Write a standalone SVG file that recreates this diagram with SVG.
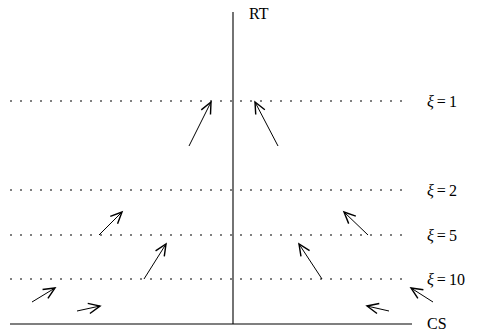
<svg xmlns="http://www.w3.org/2000/svg" width="478" height="331" viewBox="0 0 478 331">
<defs>
<style>
.ax{stroke:#000;stroke-width:1.1;fill:none}
.dot{stroke:#000;stroke-width:1;stroke-dasharray:2 8;fill:none}
.arr{stroke:#000;stroke-width:1;fill:none;marker-end:url(#ah)}
text{font-family:'Liberation Serif','DejaVu Serif',serif;font-size:16px;fill:#000}
.xi{font-style:italic}
</style>
<marker id="ah" markerUnits="userSpaceOnUse" markerWidth="20" markerHeight="20" viewBox="-12 -6 14 12" refX="0" refY="0" orient="auto">
<path d="M-8,-3.6 L0,0 L-8,3.6" fill="none" stroke="#000" stroke-width="1"/>
</marker>
</defs>
<g id="axes">
<line class="ax" x1="233" y1="12" x2="233" y2="324"/>
<line class="ax" x1="10" y1="324" x2="412" y2="324"/>
</g>
<g id="levels">
<line class="dot" x1="10" y1="101" x2="405" y2="101"/>
<line class="dot" x1="10" y1="190" x2="405" y2="190"/>
<line class="dot" x1="10" y1="235" x2="405" y2="235"/>
<line class="dot" x1="10" y1="279" x2="405" y2="279"/>
</g>
<g id="connectors">
<line class="arr" x1="189" y1="146" x2="211" y2="102"/>
<line class="arr" x1="278" y1="146" x2="255" y2="102"/>
<line class="arr" x1="99" y1="235" x2="122" y2="212"/>
<line class="arr" x1="144" y1="279" x2="166" y2="244"/>
<line class="arr" x1="368" y1="235" x2="344" y2="212"/>
<line class="arr" x1="322" y1="279" x2="299" y2="244"/>
<line class="arr" x1="32" y1="302" x2="55" y2="288"/>
<line class="arr" x1="77" y1="311" x2="100" y2="306"/>
<line class="arr" x1="389" y1="311" x2="367" y2="306"/>
<line class="arr" x1="433" y1="302" x2="411" y2="288"/>
</g>
<g id="label-RT"><text x="249" y="19">RT</text></g>
<g id="label-CS"><text x="427" y="329">CS</text></g>
<g id="label-xi1"><text x="427" y="107"><tspan class="xi">ξ</tspan><tspan dx="3">=</tspan><tspan dx="3">1</tspan></text></g>
<g id="label-xi2"><text x="427" y="196"><tspan class="xi">ξ</tspan><tspan dx="3">=</tspan><tspan dx="3">2</tspan></text></g>
<g id="label-xi5"><text x="427" y="241"><tspan class="xi">ξ</tspan><tspan dx="3">=</tspan><tspan dx="3">5</tspan></text></g>
<g id="label-xi10"><text x="427" y="285"><tspan class="xi">ξ</tspan><tspan dx="3">=</tspan><tspan dx="3">10</tspan></text></g>
</svg>
